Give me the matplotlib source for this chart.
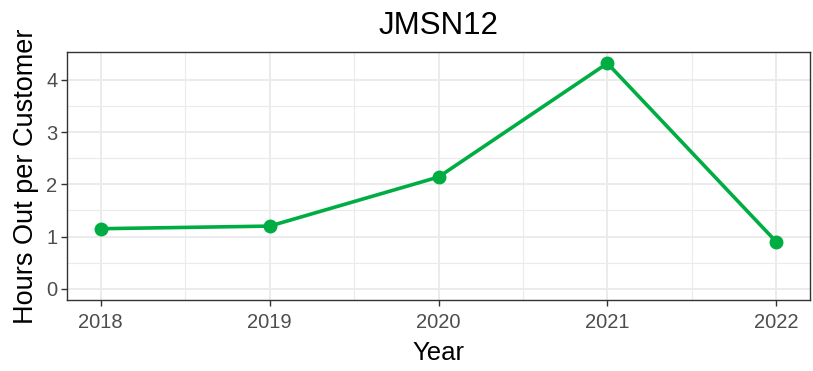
import matplotlib
matplotlib.use("Agg")
import matplotlib.pyplot as plt
import numpy as np

years = [2018, 2019, 2020, 2021, 2022]
hours = [1.15, 1.2, 2.14, 4.32, 0.9]
yticks = [0, 1, 2, 3, 4]
title = "JMSN12"
xlabel = "Year"
ylabel = "Hours Out per Customer"

plt.rcParams['font.family'] = ['Liberation Sans', 'DejaVu Sans']

fig = plt.figure(figsize=(8.13, 3.71), dpi=100)
ax = fig.add_axes([67/813, 71/371, (810-67)/813, (300-52)/371])

color = '#00AD43'
ax.plot(years, hours, color=color, lw=2.6, marker='o', ms=9, zorder=3,
        solid_capstyle='butt')

ymax = max(hours)
ax.set_xlim(2018 - 0.2, 2022 + 0.2)
ax.set_ylim(0 - 0.05 * ymax, ymax * 1.05)
ax.set_xticks(years)
ax.set_xticklabels([str(y) for y in years])
ax.set_yticks(yticks)
ax.set_xticks([2018.5, 2019.5, 2020.5, 2021.5], minor=True)
ax.set_yticks([0.5, 1.5, 2.5, 3.5], minor=True)
ax.grid(True, which='major', color='#EBEBEB', lw=1.4, zorder=0)
ax.grid(True, which='minor', color='#EBEBEB', lw=0.8, zorder=0)
ax.set_axisbelow(True)
for s in ax.spines.values():
    s.set_color('#333333')
    s.set_linewidth(1.0)
ax.tick_params(which='major', length=4, width=1, color='#333333',
               labelsize=14.5, labelcolor='#4D4D4D', pad=3)
ax.tick_params(axis='x', which='major', pad=5.5)
ax.tick_params(which='minor', length=0)
ax.set_title(title, fontsize=22.5, pad=13)
ax.set_xlabel(xlabel, fontsize=18.5, labelpad=6)
ax.set_ylabel(ylabel, fontsize=19.5, labelpad=5)

fig.savefig("out.png", dpi=100)
